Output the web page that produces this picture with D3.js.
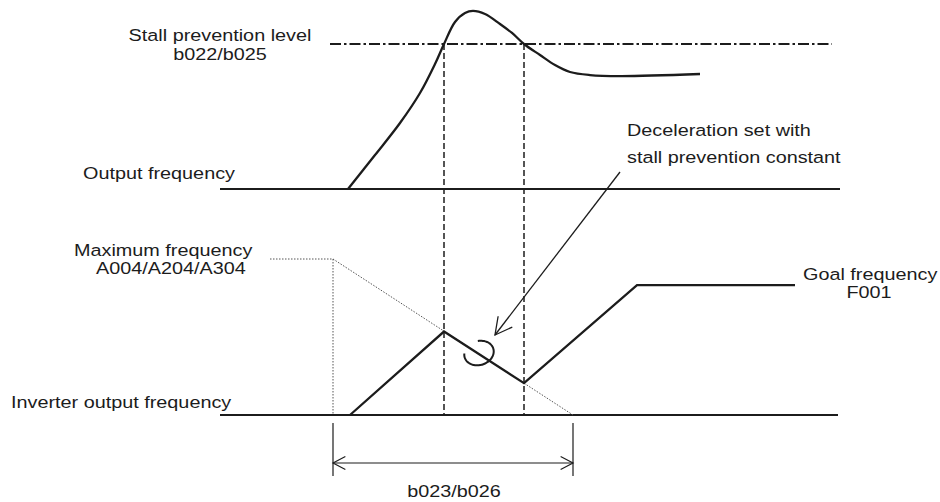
<!DOCTYPE html>
<html>
<head>
<meta charset="utf-8">
<script src="https://cdn.jsdelivr.net/npm/d3@7"></script>
<style>
  html, body { margin: 0; padding: 0; background: #fff; }
  svg { display: block; }
  text { font-family: "Liberation Sans", Arial, Helvetica, sans-serif; fill: #1c1c1c; }
</style>
</head>
<body>
<svg id="chart" width="940" height="502"></svg>
<script>
// Time axis (arbitrary units) shared by both traces
const timeDomain = [0, 62];

// Upper trace: output current against the stall prevention level (level = 100)
const outputTime  = [12.8, 15.5, 18, 20, 21.5, 22.4, 23.5, 24.5, 25.3, 26.5, 28, 29.2, 30.4, 32, 33.5, 35, 37, 40, 48];
const outputLevel = [0, 23.4, 45.5, 66.2, 86.2, 100, 115.2, 121.4, 122.8, 120.7, 113.8, 107.6, 100, 92.4, 85.5, 80.7, 78.6, 77.9, 79.3];
const stallLevel = 100;
const stallLineSpan = [11, 61.2];

// Moments where the current crosses the stall level
const crossTimes = [22.4, 30.4];

// Lower trace: inverter output frequency (maximum frequency = 100)
const inverterTime  = [13, 22.4, 30.4, 41.7, 57.5];
const inverterLevel = [0, 53.5, 20.4, 83.3, 83.3];

// Deceleration ramp from maximum frequency down to zero
const maxFreqLead = [5, 11.3];
const rampTime  = [11.3, 35.3];
const rampLevel = [100, 0];

// Labels
const labels = [
  { text: "Stall prevention level", x: 220, y: 41, anchor: "middle" },
  { text: "b022/b025",              x: 220, y: 60, anchor: "middle" },
  { text: "Output frequency",       x: 83,  y: 179, anchor: "start" },
  { text: "Deceleration set with",  x: 627, y: 136, anchor: "start" },
  { text: "stall prevention constant", x: 627, y: 163, anchor: "start" },
  { text: "Maximum frequency",      x: 74,  y: 256, anchor: "start" },
  { text: "A004/A204/A304",         x: 96,  y: 274, anchor: "start" },
  { text: "Goal frequency",         x: 803, y: 280, anchor: "start" },
  { text: "F001",                   x: 869, y: 298, anchor: "middle" },
  { text: "Inverter output frequency", x: 11, y: 408, anchor: "start" },
  { text: "b023/b026",              x: 454, y: 497, anchor: "middle" }
];

const ink = "#1c1c1c";
const svg = d3.select("#chart");

const x = d3.scaleLinear().domain(timeDomain).range([220, 840]);
const yTop = d3.scaleLinear().domain([0, 100]).range([189, 44]);
const yBot = d3.scaleLinear().domain([0, 100]).range([415, 259]);

// --- baselines
svg.append("line")
  .attr("x1", x(timeDomain[0])).attr("x2", x(timeDomain[1]))
  .attr("y1", yTop(0)).attr("y2", yTop(0))
  .attr("stroke", ink).attr("stroke-width", 1.8);
svg.append("line")
  .attr("x1", x(timeDomain[0])).attr("x2", x(timeDomain[1]) - 2)
  .attr("y1", yBot(0)).attr("y2", yBot(0))
  .attr("stroke", ink).attr("stroke-width", 1.8);

// --- stall prevention level (dash-dot)
svg.append("line")
  .attr("x1", x(stallLineSpan[0])).attr("x2", x(stallLineSpan[1]))
  .attr("y1", yTop(stallLevel)).attr("y2", yTop(stallLevel))
  .attr("stroke", ink).attr("stroke-width", 1.8)
  .attr("stroke-dasharray", "11,3,2.5,3");

// --- vertical dashed markers at the crossings
svg.selectAll("line.cross").data(crossTimes).join("line")
  .attr("class", "cross")
  .attr("x1", d => x(d)).attr("x2", d => x(d))
  .attr("y1", yTop(stallLevel)).attr("y2", yBot(0))
  .attr("stroke", ink).attr("stroke-width", 1.5)
  .attr("stroke-dasharray", "6,3");

// --- output current curve
const topLine = d3.line()
  .x((d, i) => x(outputTime[i]))
  .y(d => yTop(d))
  .curve(d3.curveCatmullRom.alpha(0.5));
svg.append("path")
  .attr("d", topLine(outputLevel))
  .attr("fill", "none").attr("stroke", ink).attr("stroke-width", 2.3);

// --- maximum frequency reference (dotted)
const dotted = g => g.attr("stroke", "#555").attr("stroke-width", 1).attr("stroke-dasharray", "1.5,1.5").attr("fill", "none");
svg.append("line")
  .attr("x1", x(maxFreqLead[0])).attr("x2", x(maxFreqLead[1]))
  .attr("y1", yBot(100)).attr("y2", yBot(100)).call(dotted);
svg.append("line")
  .attr("x1", x(maxFreqLead[1])).attr("x2", x(maxFreqLead[1]))
  .attr("y1", yBot(100)).attr("y2", yBot(0)).call(dotted);
svg.append("line")
  .attr("x1", x(rampTime[0])).attr("x2", x(rampTime[1]))
  .attr("y1", yBot(rampLevel[0])).attr("y2", yBot(rampLevel[1])).call(dotted);

// --- inverter output frequency
const botLine = d3.line()
  .x((d, i) => x(inverterTime[i]))
  .y(d => yBot(d));
svg.append("path")
  .attr("d", botLine(inverterLevel))
  .attr("fill", "none").attr("stroke", ink).attr("stroke-width", 2.3)
  .attr("stroke-linejoin", "miter");

// --- rotation mark on the decelerating segment
const loopCenter = [x(25.9), yBot(39.7)];
const loopPts = d3.range(-80, 205, 5).map(a => {
  const r = a * Math.PI / 180, rot = -18 * Math.PI / 180;
  const ex = 15 * Math.cos(r), ey = 12 * Math.sin(r);
  return [loopCenter[0] + ex * Math.cos(rot) - ey * Math.sin(rot),
          loopCenter[1] + ex * Math.sin(rot) + ey * Math.cos(rot)];
});
svg.append("path")
  .attr("d", d3.line().curve(d3.curveBasis)(loopPts))
  .attr("fill", "none").attr("stroke", ink).attr("stroke-width", 2);

// --- annotation arrow
const arrowFrom = [620, 172], arrowTo = [495, 335];
svg.append("line")
  .attr("x1", arrowFrom[0]).attr("y1", arrowFrom[1])
  .attr("x2", arrowTo[0]).attr("y2", arrowTo[1])
  .attr("stroke", ink).attr("stroke-width", 1.3);
function chevron(tip, from, len, halfAngle) {
  const ang = Math.atan2(from[1] - tip[1], from[0] - tip[0]);
  const a1 = ang + halfAngle, a2 = ang - halfAngle;
  return d3.line()([
    [tip[0] + len * Math.cos(a1), tip[1] + len * Math.sin(a1)],
    tip,
    [tip[0] + len * Math.cos(a2), tip[1] + len * Math.sin(a2)]
  ]);
}
svg.append("path")
  .attr("d", chevron(arrowTo, arrowFrom, 19, 28 * Math.PI / 180))
  .attr("fill", "none").attr("stroke", ink).attr("stroke-width", 1.3);

// --- deceleration time dimension
const dimY = 463;
svg.selectAll("line.tick").data(rampTime).join("line")
  .attr("class", "tick")
  .attr("x1", d => x(d)).attr("x2", d => x(d))
  .attr("y1", 423).attr("y2", 476)
  .attr("stroke", ink).attr("stroke-width", 1.2);
svg.append("line")
  .attr("x1", x(rampTime[0])).attr("x2", x(rampTime[1]))
  .attr("y1", dimY).attr("y2", dimY)
  .attr("stroke", ink).attr("stroke-width", 1.2);
svg.append("path")
  .attr("d", chevron([x(rampTime[0]), dimY], [x(rampTime[1]), dimY], 14, 28 * Math.PI / 180))
  .attr("fill", "none").attr("stroke", ink).attr("stroke-width", 1.2);
svg.append("path")
  .attr("d", chevron([x(rampTime[1]), dimY], [x(rampTime[0]), dimY], 14, 28 * Math.PI / 180))
  .attr("fill", "none").attr("stroke", ink).attr("stroke-width", 1.2);

// --- text
svg.selectAll("text.lbl").data(labels).join("text")
  .attr("class", "lbl")
  .attr("transform", d => `translate(${d.x},${d.y}) scale(1.18,1)`)
  .attr("text-anchor", d => d.anchor)
  .style("font-size", "16.8px")
  .text(d => d.text);
</script>
</body>
</html>
